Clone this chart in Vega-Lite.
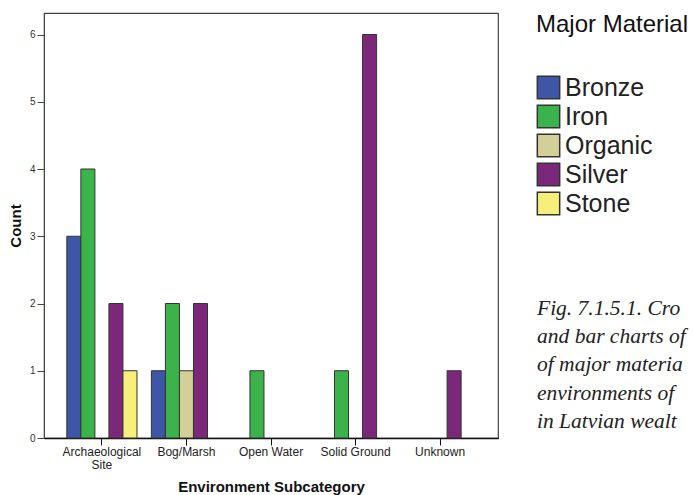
{
  "$schema": "https://vega.github.io/schema/vega-lite/v6.json",
  "background": "white",
  "padding": {"left": 7, "top": 12, "right": 0, "bottom": 0},
  "bounds": "flush",
  "spacing": 34,
  "config": {
    "font": "Liberation Sans",
    "view": {"stroke": "#444", "strokeWidth": 1.2}
  },
  "resolve": {"scale": {"color": "independent"}},
  "hconcat": [
    {
      "width": 454,
      "height": 425,
      "data": {
        "values": [
          {"environment": "Archaeological Site", "material": "Bronze", "count": 3},
          {"environment": "Archaeological Site", "material": "Iron", "count": 4},
          {"environment": "Archaeological Site", "material": "Silver", "count": 2},
          {"environment": "Archaeological Site", "material": "Stone", "count": 1},
          {"environment": "Bog/Marsh", "material": "Bronze", "count": 1},
          {"environment": "Bog/Marsh", "material": "Iron", "count": 2},
          {"environment": "Bog/Marsh", "material": "Organic", "count": 1},
          {"environment": "Bog/Marsh", "material": "Silver", "count": 2},
          {"environment": "Open Water", "material": "Iron", "count": 1},
          {"environment": "Solid Ground", "material": "Iron", "count": 1},
          {"environment": "Solid Ground", "material": "Silver", "count": 6},
          {"environment": "Unknown", "material": "Silver", "count": 1}
        ]
      },
      "mark": {"type": "bar", "stroke": "#333", "strokeWidth": 1},
      "encoding": {
        "x": {
          "field": "environment",
          "type": "nominal",
          "sort": ["Archaeological Site", "Bog/Marsh", "Open Water", "Solid Ground", "Unknown"],
          "scale": {"paddingInner": 0.17, "paddingOuter": 0.27},
          "title": "Environment Subcategory",
          "axis": {
            "labelAngle": 0,
            "labelFontSize": 12,
            "labelColor": "#222",
            "labelPadding": 1,
            "labelLineHeight": 13,
            "labelExpr": "datum.label == 'Archaeological Site' ? ['Archaeological', 'Site'] : datum.label",
            "tickSize": 7,
            "tickColor": "#111",
            "domainColor": "#111",
            "domainWidth": 1.5,
            "titleFontSize": 15,
            "titleFontWeight": "bold",
            "titleColor": "#111",
            "titlePadding": 9
          }
        },
        "xOffset": {
          "field": "material",
          "type": "nominal",
          "scale": {"domain": ["Bronze", "Iron", "Organic", "Silver", "Stone"], "paddingInner": 0, "paddingOuter": 0}
        },
        "y": {
          "field": "count",
          "type": "quantitative",
          "scale": {"domain": [0, 6.32], "nice": false},
          "title": "Count",
          "axis": {
            "values": [0, 1, 2, 3, 4, 5, 6],
            "format": "d",
            "grid": false,
            "tickSize": 7,
            "tickColor": "#444",
            "domainColor": "#444",
            "labelFontSize": 10,
            "labelColor": "#333",
            "labelPadding": 2,
            "titleFontSize": 15,
            "titleFontWeight": "bold",
            "titleColor": "#111",
            "titlePadding": 6
          }
        },
        "color": {
          "field": "material",
          "type": "nominal",
          "title": "Major Material",
          "scale": {
            "domain": ["Bronze", "Iron", "Organic", "Silver", "Stone"],
            "range": ["#3e56a6", "#3cb34a", "#d4cf97", "#7b287a", "#f8ee7a"]
          },
          "legend": {
            "orient": "right",
            "offset": 38,
            "titleFontSize": 24,
            "titleFontWeight": "normal",
            "titleColor": "#111",
            "titlePadding": 38,
            "labelFontSize": 25,
            "labelColor": "#222",
            "labelOffset": 4,
            "symbolType": "square",
            "symbolSize": 500,
            "symbolStrokeColor": "#333",
            "symbolStrokeWidth": 1.5,
            "rowPadding": 0
          }
        }
      }
    },
    {
      "width": 10,
      "height": 415,
      "view": {"stroke": null},
      "data": {
        "values": [
          {"line": 1, "caption": "Fig. 7.1.5.1. Cro"},
          {"line": 2, "caption": "and bar charts of"},
          {"line": 3, "caption": "of major materia"},
          {"line": 4, "caption": "environments of"},
          {"line": 5, "caption": "in Latvian wealt"}
        ]
      },
      "mark": {
        "type": "text",
        "align": "left",
        "baseline": "alphabetic",
        "font": "Liberation Serif",
        "fontStyle": "italic",
        "fontSize": 21.5,
        "color": "#222"
      },
      "encoding": {
        "y": {
          "field": "line",
          "type": "quantitative",
          "scale": {"domain": [-9.69, 5], "reverse": true, "nice": false, "zero": false},
          "axis": null
        },
        "text": {"field": "caption", "type": "nominal"}
      }
    }
  ]
}
